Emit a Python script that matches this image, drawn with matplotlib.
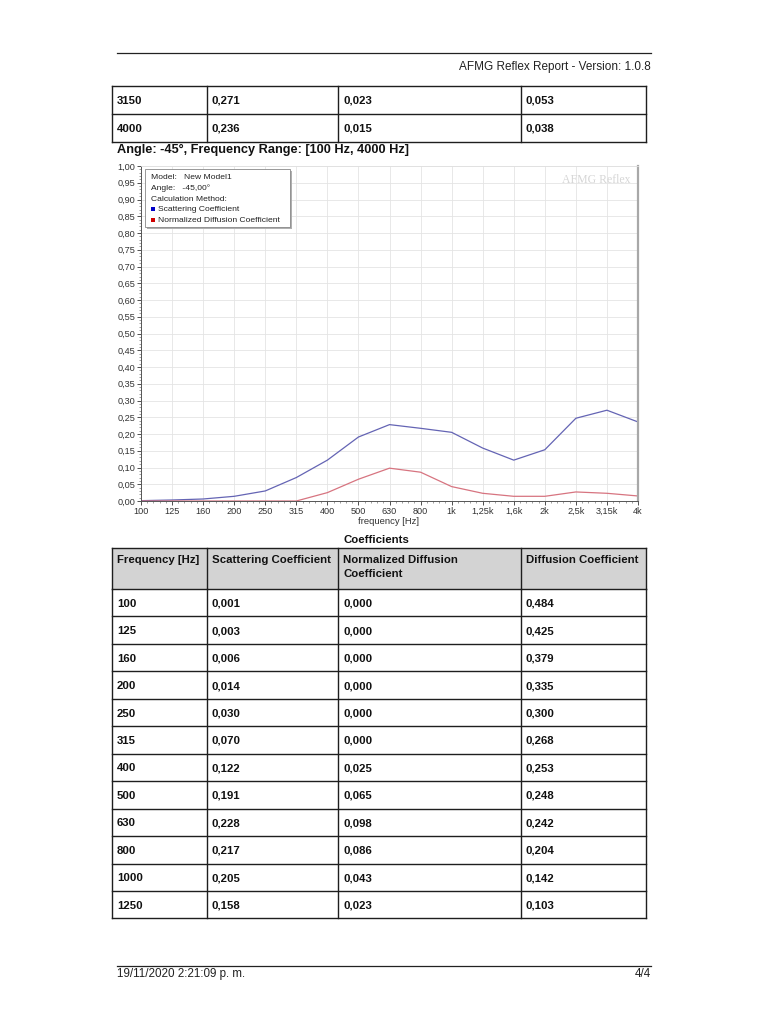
import numpy as np
import matplotlib
matplotlib.use("Agg")
import matplotlib.pyplot as plt
from matplotlib.patches import Rectangle
from matplotlib.ticker import FuncFormatter, MultipleLocator

plt.rcParams['font.family'] = ['Liberation Sans', 'DejaVu Sans']

# data
freq_labels = ['100', '125', '160', '200', '250', '315', '400', '500', '630',
               '800', '1k', '1,25k', '1,6k', '2k', '2,5k', '3,15k', '4k']
freq_hz = [100, 125, 160, 200, 250, 315, 400, 500, 630, 800, 1000, 1250,
           1600, 2000, 2500, 3150, 4000]
scattering = [0.001, 0.003, 0.006, 0.014, 0.030, 0.070, 0.122, 0.191, 0.228,
              0.217, 0.205, 0.158, 0.122, 0.153, 0.247, 0.271, 0.236]
norm_diffusion = [0.000, 0.000, 0.000, 0.000, 0.000, 0.000, 0.025, 0.065, 0.098,
                  0.086, 0.043, 0.023, 0.014, 0.014, 0.027, 0.023, 0.015]
diffusion = [0.484, 0.425, 0.379, 0.335, 0.300, 0.268, 0.253, 0.248, 0.242,
             0.204, 0.142, 0.103, None, None, None, 0.053, 0.038]
top_rows = [15, 16]              # rows left over from previous page
bottom_rows = list(range(12))    # rows in the Coefficients table
headers = ['Frequency [Hz]', 'Scattering Coefficient',
           'Normalized Diffusion\nCoefficient', 'Diffusion Coefficient']


def fmt(v):
    return ('%.3f' % v).replace('.', ',')


fig = plt.figure(figsize=(7.68, 10.24), dpi=100)

# chart axes (pixel box 141..638 x 166..501)
ax = fig.add_axes([141 / 768, 1 - 501 / 1024, (638 - 141) / 768, (501 - 166) / 1024])
ax.set_zorder(1)
x = np.arange(len(freq_labels))
ax.plot(x, scattering, color='#6464b4', lw=0.9)
ax.plot(x, norm_diffusion, color='#d77480', lw=0.9)
ax.set_xlim(0, len(x) - 1)
ax.set_ylim(0, 1)
ax.set_xticks(x)
ax.set_xticklabels(freq_labels)
ax.xaxis.set_minor_locator(MultipleLocator(0.2))
ax.yaxis.set_major_locator(MultipleLocator(0.05))
ax.yaxis.set_minor_locator(MultipleLocator(0.01))
ax.yaxis.set_major_formatter(FuncFormatter(lambda v, p: ('%.2f' % v).replace('.', ',')))
ax.tick_params(labelsize=6.6, colors='#333333', length=3, width=0.6, pad=1)
ax.tick_params(which='minor', length=1.5, width=0.4, colors='#555555')
ax.grid(True, color='#e4e4e4', lw=0.6)
ax.set_axisbelow(True)
for s in ['left', 'bottom']:
    ax.spines[s].set_color('#555555')
    ax.spines[s].set_linewidth(0.7)
ax.spines['top'].set_color('#e0e0e0')
ax.spines['top'].set_linewidth(0.6)
ax.spines['right'].set_color('#a8a8a8')
ax.spines['right'].set_linewidth(1.6)
ax.text(0.985, 0.975, 'AFMG Reflex', transform=ax.transAxes, ha='right', va='top',
        fontsize=8.5, color='#d6d6d6', family=['Liberation Serif'])

# page overlay in pixel coordinates
pg = fig.add_axes([0, 0, 1, 1])
pg.set_zorder(2)
pg.patch.set_alpha(0)
pg.set_xlim(0, 768)
pg.set_ylim(1024, 0)
pg.axis('off')

# header / footer
pg.plot([117, 651], [53, 53], color='#222222', lw=0.9)
pg.text(651, 70, 'AFMG Reflex Report - Version: 1.0.8', ha='right', va='baseline',
        fontsize=8.5, color='#222222')
pg.plot([117, 651], [966, 966], color='#222222', lw=0.9)
pg.text(117, 977, '19/11/2020 2:21:09 p. m.', ha='left', va='baseline', fontsize=8.4, color='#222222')
pg.text(651, 977, '4/4', ha='right', va='baseline', fontsize=8.4, color='#222222')

cols = [112, 207, 338, 521, 646]
lc = '#1e1e1e'


def table_rows(rows, y0, h):
    for i, r in enumerate(rows):
        yb = y0 + (i + 0.5) * h + 4
        vals = [str(freq_hz[r]), fmt(scattering[r]), fmt(norm_diffusion[r]), fmt(diffusion[r])]
        for c, v in enumerate(vals):
            pg.text(cols[c] + 5, yb, v, ha='left', va='baseline', fontsize=8.2,
                    fontweight='bold', color='#111111')
        pg.plot([cols[0], cols[-1]], [y0 + (i + 1) * h] * 2, color=lc, lw=1.0)
    y1 = y0 + len(rows) * h
    pg.plot([cols[0], cols[-1]], [y0, y0], color=lc, lw=1.0)
    for cx in cols:
        pg.plot([cx, cx], [y0, y1], color=lc, lw=1.0)


# top table (continuation)
table_rows(top_rows, 86, 27.8)

pg.text(117, 153, 'Angle: -45°, Frequency Range: [100 Hz, 4000 Hz]', ha='left', va='baseline',
        fontsize=9.2, fontweight='bold', color='#111111')

# legend box
pg.add_patch(Rectangle((147, 171), 145, 58, facecolor='#b0b0b0', edgecolor='none'))
pg.add_patch(Rectangle((145, 169), 145, 58, facecolor='white', edgecolor='#888888', lw=0.6))
leg_lines = ['Model:   New Model1', 'Angle:   -45,00°', 'Calculation Method:']
sp = 10.8
for i, t in enumerate(leg_lines):
    pg.text(151, 179 + i * sp, t, ha='left', va='baseline', fontsize=6.1, color='#222222')
for i, (t, c) in enumerate([('Scattering Coefficient', '#0000c8'),
                            ('Normalized Diffusion Coefficient', '#d00000')]):
    yb = 179 + (i + 3) * sp
    pg.add_patch(Rectangle((151, yb - 4.5), 4, 4, facecolor=c, edgecolor='none'))
    pg.text(158, yb, t, ha='left', va='baseline', fontsize=6.1, color='#222222')

pg.text(389, 524, 'frequency [Hz]', ha='center', va='baseline', fontsize=6.8, color='#333333')

# Coefficients table
pg.text(376, 543, 'Coefficients', ha='center', va='baseline', fontsize=8.2,
        fontweight='bold', color='#111111')
hy0, hy1 = 548, 589
pg.add_patch(Rectangle((cols[0], hy0), cols[-1] - cols[0], hy1 - hy0,
                       facecolor='#d3d3d3', edgecolor='none'))
for c, t in enumerate(headers):
    pg.text(cols[c] + 5, 555, t, ha='left', va='top', fontsize=8.2, fontweight='bold',
            color='#111111', linespacing=1.45)
pg.plot([cols[0], cols[-1]], [hy0, hy0], color=lc, lw=1.0)
for cx in cols:
    pg.plot([cx, cx], [hy0, hy1], color=lc, lw=1.0)
table_rows(bottom_rows, hy1, 27.45)

fig.savefig('out.png', dpi=100)
